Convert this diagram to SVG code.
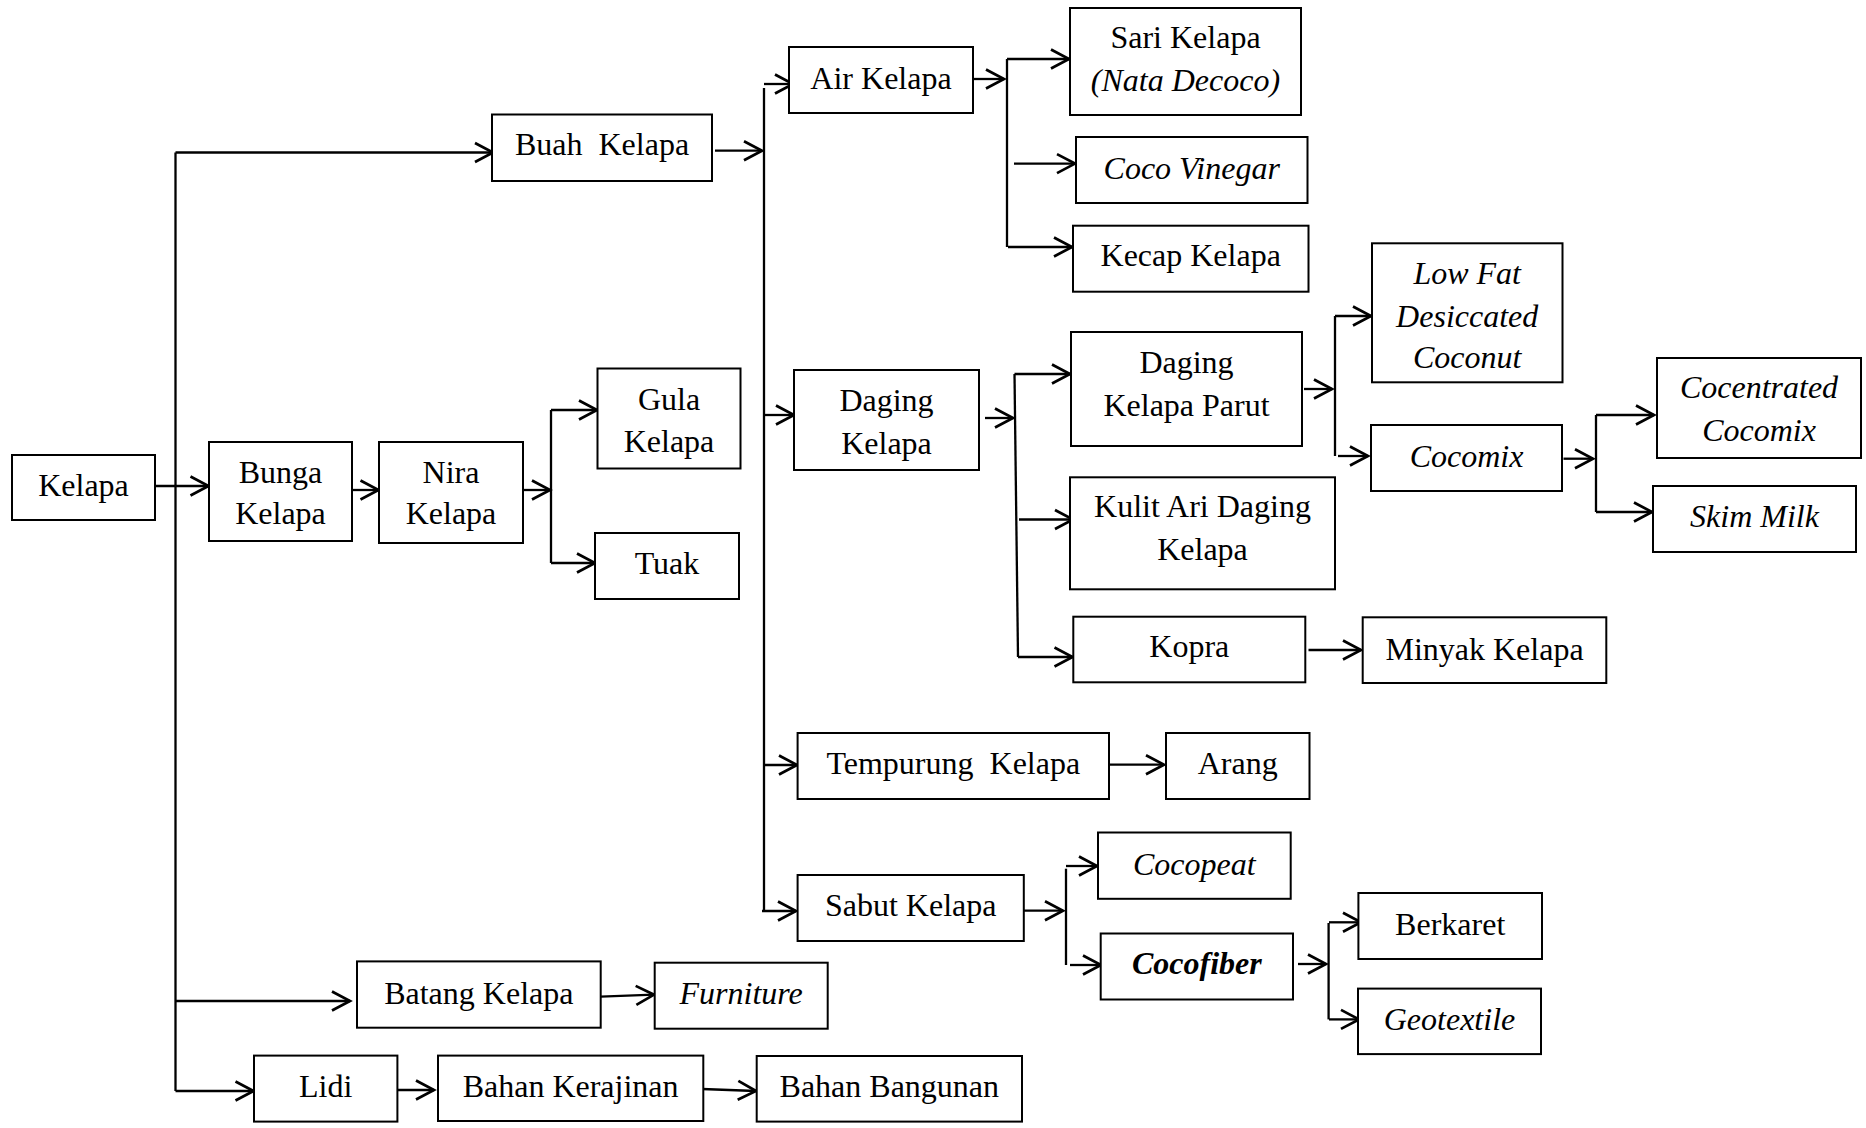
<svg xmlns="http://www.w3.org/2000/svg" width="1866" height="1128" viewBox="0 0 1866 1128">
  <style>
    .box { fill: #ffffff; stroke: #000000; stroke-width: 2; }
    .lbl { font-family: "Liberation Serif", "Times New Roman", serif; font-size: 32px; fill: #000000; text-anchor: middle; }
    .it { font-style: italic; }
    .bi { font-style: italic; font-weight: bold; }
    .ln { fill: none; stroke: #000000; stroke-width: 2.3; }
    .arr { fill: none; stroke: #000000; stroke-width: 2.3; marker-end: url(#head); }
  </style>
  <defs>
    <marker id="head" markerUnits="userSpaceOnUse" markerWidth="24" markerHeight="24" viewBox="-20 -12 22 24" refX="0" refY="0" orient="auto" overflow="visible">
      <path d="M-18,-9.5 L0,0 L-18,9.5" fill="none" stroke="#000000" stroke-width="2.7" stroke-linejoin="miter"/>
    </marker>
  </defs>
  <rect width="1866" height="1128" fill="#ffffff"/>

  <!-- connectors -->
  <g id="connectors">
    <!-- trunk from Kelapa -->
    <path class="ln" d="M175.5,152.5 V1091"/>
    <path class="arr" d="M175.5,152.5 H493"/>
    <path class="arr" d="M155,486 H208.5"/>
    <path class="arr" d="M175.5,1001 H350"/>
    <path class="arr" d="M175.5,1091 H253.5"/>

    <!-- Bunga / Nira branch -->
    <path class="arr" d="M352,490 H378.5"/>
    <path class="arr" d="M523,490 H550"/>
    <path class="ln" d="M551,410 V563"/>
    <path class="arr" d="M551,410 H597"/>
    <path class="arr" d="M551,563 H595"/>

    <!-- Buah Kelapa branch -->
    <path class="arr" d="M715,150.7 H762"/>
    <path class="ln" d="M764,88 V911"/>
    <path class="arr" d="M764,84 H793"/>
    <path class="arr" d="M764,415 H794"/>
    <path class="arr" d="M764,765 H797"/>
    <path class="arr" d="M762,911 H796"/>

    <!-- Air Kelapa products -->
    <path class="arr" d="M973,79 H1004"/>
    <path class="ln" d="M1007,59 V247"/>
    <path class="arr" d="M1007,59 H1069"/>
    <path class="arr" d="M1014,163.6 H1075"/>
    <path class="arr" d="M1008,247 H1072"/>

    <!-- Daging Kelapa products -->
    <path class="arr" d="M985,418 H1013"/>
    <path class="ln" d="M1014.5,374 L1018,657"/>
    <path class="arr" d="M1014.5,374 H1070"/>
    <path class="arr" d="M1019,519.5 H1073"/>
    <path class="arr" d="M1018,657 H1072.5"/>
    <path class="arr" d="M1308.5,650 H1361"/>

    <!-- Daging Kelapa Parut products -->
    <path class="arr" d="M1304,389 H1332"/>
    <path class="ln" d="M1335,316 V456"/>
    <path class="arr" d="M1335,316 H1371"/>
    <path class="arr" d="M1338,456 H1368"/>

    <!-- Cocomix products -->
    <path class="arr" d="M1563.5,458.7 H1593"/>
    <path class="ln" d="M1596,415 V512"/>
    <path class="arr" d="M1596,415 H1654"/>
    <path class="arr" d="M1596,512 H1652"/>

    <!-- Tempurung -->
    <path class="arr" d="M1109,764.7 H1164"/>

    <!-- Sabut Kelapa products -->
    <path class="arr" d="M1024,910.7 H1063"/>
    <path class="ln" d="M1066,868.7 V965"/>
    <path class="arr" d="M1066,866 H1097"/>
    <path class="arr" d="M1070,965 H1101"/>
    <path class="arr" d="M1298,964 H1326"/>
    <path class="ln" d="M1328.6,923 V1019.4"/>
    <path class="arr" d="M1329,922.3 H1361"/>
    <path class="arr" d="M1329,1019.4 H1359"/>

    <!-- Batang and Lidi chains -->
    <path class="arr" d="M600.7,996.7 L654,994.7"/>
    <path class="arr" d="M396,1090 H434"/>
    <path class="arr" d="M702,1089 L756,1091"/>
  </g>

  <!-- nodes -->
  <g id="kelapa"><rect class="box" x="12" y="455" width="143" height="65"/><text class="lbl" x="83.5" y="496">Kelapa</text></g>
  <g id="bunga-kelapa"><rect class="box" x="209" y="442" width="143" height="99"/><text class="lbl" x="280.5" y="482.5">Bunga</text><text class="lbl" x="280.5" y="524">Kelapa</text></g>
  <g id="nira-kelapa"><rect class="box" x="379" y="442" width="144" height="101"/><text class="lbl" x="451" y="482.5">Nira</text><text class="lbl" x="451" y="524">Kelapa</text></g>
  <g id="gula-kelapa"><rect class="box" x="597.5" y="368.5" width="143" height="100"/><text class="lbl" x="669" y="410">Gula</text><text class="lbl" x="669" y="451.5">Kelapa</text></g>
  <g id="tuak"><rect class="box" x="595" y="533" width="144" height="66"/><text class="lbl" x="667" y="574">Tuak</text></g>

  <g id="buah-kelapa"><rect class="box" x="492" y="114.5" width="220" height="66.5"/><text class="lbl" x="602" y="155" xml:space="preserve">Buah  Kelapa</text></g>
  <g id="air-kelapa"><rect class="box" x="789" y="47" width="184" height="66"/><text class="lbl" x="881" y="88.5">Air Kelapa</text></g>
  <g id="sari-kelapa"><rect class="box" x="1070" y="8" width="231" height="107"/><text class="lbl" x="1185.5" y="48">Sari Kelapa</text><text class="lbl it" x="1185.5" y="91">(Nata Decoco)</text></g>
  <g id="coco-vinegar"><rect class="box" x="1076" y="137" width="231.5" height="66"/><text class="lbl it" x="1191.7" y="179">Coco Vinegar</text></g>
  <g id="kecap-kelapa"><rect class="box" x="1073" y="225.7" width="235.5" height="66"/><text class="lbl" x="1190.7" y="266">Kecap Kelapa</text></g>

  <g id="daging-kelapa"><rect class="box" x="794" y="370" width="185" height="100"/><text class="lbl" x="886.5" y="411">Daging</text><text class="lbl" x="886.5" y="454">Kelapa</text></g>
  <g id="daging-kelapa-parut"><rect class="box" x="1071" y="332" width="231" height="114"/><text class="lbl" x="1186.5" y="373">Daging</text><text class="lbl" x="1186.5" y="416">Kelapa Parut</text></g>
  <g id="low-fat"><rect class="box" x="1372" y="243.3" width="190.5" height="139"/><text class="lbl it" x="1467.2" y="283.7">Low Fat</text><text class="lbl it" x="1467.2" y="326.5">Desiccated</text><text class="lbl it" x="1467.2" y="368">Coconut</text></g>
  <g id="cocomix"><rect class="box" x="1371" y="425" width="191" height="66"/><text class="lbl it" x="1466.5" y="467">Cocomix</text></g>
  <g id="cocentrated-cocomix"><rect class="box" x="1657" y="358" width="204" height="100"/><text class="lbl it" x="1759" y="398">Cocentrated</text><text class="lbl it" x="1759" y="441">Cocomix</text></g>
  <g id="skim-milk"><rect class="box" x="1653" y="486" width="203" height="66"/><text class="lbl it" x="1754.5" y="526.5">Skim Milk</text></g>
  <g id="kulit-ari"><rect class="box" x="1070" y="477.3" width="265" height="112"/><text class="lbl" x="1202.5" y="517">Kulit Ari Daging</text><text class="lbl" x="1202.5" y="560">Kelapa</text></g>
  <g id="kopra"><rect class="box" x="1073.3" y="616.7" width="232" height="65.6"/><text class="lbl" x="1189.3" y="657.4">Kopra</text></g>
  <g id="minyak-kelapa"><rect class="box" x="1362.7" y="617.3" width="243.6" height="65.7"/><text class="lbl" x="1484.5" y="659.7">Minyak Kelapa</text></g>

  <g id="tempurung-kelapa"><rect class="box" x="797.6" y="733" width="311.4" height="66"/><text class="lbl" x="953.3" y="774" xml:space="preserve">Tempurung  Kelapa</text></g>
  <g id="arang"><rect class="box" x="1166" y="733" width="143.5" height="66"/><text class="lbl" x="1237.7" y="774">Arang</text></g>

  <g id="sabut-kelapa"><rect class="box" x="797.6" y="875" width="226.2" height="66"/><text class="lbl" x="910.7" y="915.6">Sabut Kelapa</text></g>
  <g id="cocopeat"><rect class="box" x="1098" y="832.5" width="192.7" height="66.3"/><text class="lbl it" x="1194.3" y="875">Cocopeat</text></g>
  <g id="cocofiber"><rect class="box" x="1100.7" y="933.5" width="192.3" height="66"/><text class="lbl bi" x="1196.8" y="974">Cocofiber</text></g>
  <g id="berkaret"><rect class="box" x="1358.4" y="893" width="183.6" height="66"/><text class="lbl" x="1450.2" y="934.6">Berkaret</text></g>
  <g id="geotextile"><rect class="box" x="1358" y="988.6" width="183" height="65.5"/><text class="lbl it" x="1449.5" y="1030">Geotextile</text></g>

  <g id="batang-kelapa"><rect class="box" x="357" y="961.4" width="243.7" height="66.3"/><text class="lbl" x="478.8" y="1003.7">Batang Kelapa</text></g>
  <g id="furniture"><rect class="box" x="654.7" y="962.7" width="173" height="66"/><text class="lbl it" x="741.2" y="1003.7">Furniture</text></g>
  <g id="lidi"><rect class="box" x="254" y="1055.6" width="143.4" height="66"/><text class="lbl" x="325.7" y="1096.5">Lidi</text></g>
  <g id="bahan-kerajinan"><rect class="box" x="438" y="1055.6" width="265.3" height="65.4"/><text class="lbl" x="570.6" y="1096.5">Bahan Kerajinan</text></g>
  <g id="bahan-bangunan"><rect class="box" x="756.7" y="1056" width="265.3" height="65.6"/><text class="lbl" x="889.3" y="1096.5">Bahan Bangunan</text></g>
</svg>
